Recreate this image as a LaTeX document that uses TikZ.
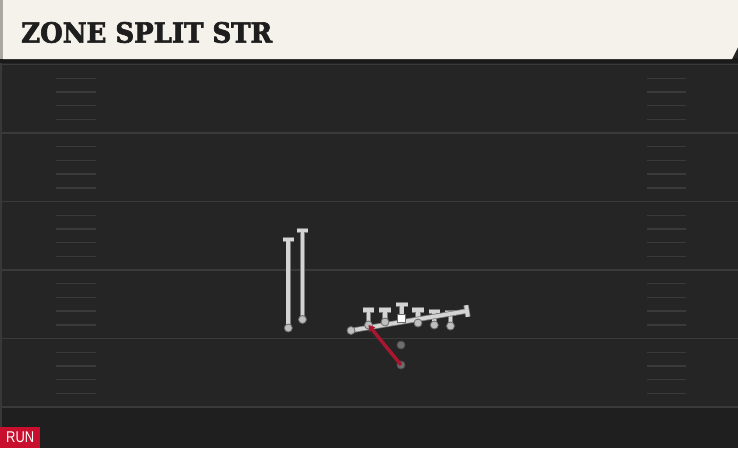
\documentclass[tikz,border=0pt]{standalone}
\usepackage{fontspec}
\usetikzlibrary{calc,arrows.meta}
\newfontfamily\titlefont{DejaVu Serif}[BoldFeatures={FakeBold=2.5}]
\newfontfamily\runfont{Liberation Sans}
\definecolor{field}{HTML}{252525}
\definecolor{fieldlow}{HTML}{1F1F1F}
\definecolor{yard}{HTML}{3A3A3A}
\definecolor{cream}{HTML}{F5F2EB}
\definecolor{headerstrip}{HTML}{A9A7A2}
\definecolor{shadow}{HTML}{1A1A1A}
\definecolor{edgeline}{HTML}{383838}
\definecolor{titleink}{HTML}{1E1E1E}
\definecolor{runred}{HTML}{C8102E}
\definecolor{pathred}{HTML}{A8172F}
\definecolor{routelight}{HTML}{D4D4D4}
\definecolor{routedark}{HTML}{7A7A7A}
\definecolor{dotfill}{HTML}{BEBEBE}
\definecolor{dotedge}{HTML}{6A6A6A}
\definecolor{rbfill}{HTML}{6E6E6E}
\definecolor{rbedge}{HTML}{4E4E4E}
\begin{document}
\begin{tikzpicture}[x=1pt,y=-1pt,
  yardline/.style={draw=yard, line width=1.6pt},
  hashmark/.style={draw=yard, line width=1.4pt},
  route/.style={draw=routelight, line width=3.7pt, preaction={draw=routedark, line width=5.3pt}},
  dot/.style={circle, fill=dotfill, draw=dotedge, line width=0.8pt, minimum size=8pt, inner sep=0pt},
  rbdot/.style={dot, fill=rbfill, draw=rbedge},
  centerbox/.style={rectangle, fill=white, draw=dotedge, line width=0.5pt, minimum size=8pt, inner sep=0pt},
  runpath/.style={draw=pathred, line width=3.4pt, -{Triangle[length=6pt,width=7.5pt]}},
]
\useasboundingbox (0,0) rectangle (738,448);
% field
\fill[field] (0,0) rectangle (738,448);
\fill[fieldlow] (0,408) rectangle (738,448);
\foreach \y in {64.5,133,201.5,270,338.5,407} \draw[yardline] (0,\y) -- (738,\y);
\foreach \y in {64.5,133,201.5,270,338.5} {
  \foreach \k in {1,...,4} {
    \draw[hashmark] (56,{\y+\k*13.7}) -- (96,{\y+\k*13.7});
    \draw[hashmark] (647,{\y+\k*13.7}) -- (686,{\y+\k*13.7});
  }
}
\fill[edgeline] (0,62) rectangle (1.6,448);
% header
\fill[shadow] (0,58) rectangle (738,62.5);
\fill[cream] (3,0) -- (738,0) -- (738,47) -- (732,59) -- (3,59) -- cycle;
\fill[headerstrip] (0,0) rectangle (3,59);
\node[anchor=base west, inner sep=0pt, text=titleink] (title) at (21,42.6)
  {\resizebox{251pt}{20.6pt}{\titlefont\bfseries ZONE SPLIT STR}};
% run label
\node[fill=runred, anchor=south west, minimum width=40pt, minimum height=20.5pt, inner sep=0pt, text=white] (runlabel) at (0,448)
  {\resizebox{28pt}{10.7pt}{\runfont RUN}};
% player positions
\coordinate (wrA) at (288.3,328);   \coordinate (wrAend) at (288.3,239.5);
\coordinate (wrB) at (302.5,319.5); \coordinate (wrBend) at (302.5,230.5);
\coordinate (te) at (351,330.5);    \coordinate (teend) at (467,311);
\coordinate (lA) at (368.5,325);    \coordinate (lAend) at (368.5,310);
\coordinate (lB) at (385,322);      \coordinate (lBend) at (385,310);
\coordinate (cc) at (401.7,318);    \coordinate (ccend) at (401.7,304.5);
\coordinate (lC) at (418,323);      \coordinate (lCend) at (418,310);
\coordinate (lD) at (434.3,325);    \coordinate (lDend) at (434.3,311.5);
\coordinate (lE) at (450.5,326);    \coordinate (lEend) at (450.5,313);
\coordinate (qb) at (401,345);
\coordinate (rb) at (401,365);
% routes
\foreach \p in {wrA,wrB,lA,lB,cc,lC,lD,lE} {
  \draw[route] (\p) -- (\p end) ($(\p end)+(-5.8,0)$) -- ($(\p end)+(5.8,0)$);
}
\draw[route] (te) -- (teend) ($(teend)!5.8pt!90:(te)$) -- ($(teend)!5.8pt!-90:(te)$);
% players
\node[dot] (pwrA) at (wrA) {};
\node[dot] (pwrB) at (wrB) {};
\node[dot] (pte) at (te) {};
\node[dot] (plA) at (lA) {};
\node[dot] (plB) at (lB) {};
\node[centerbox] (pcc) at (cc) {};
\node[dot] (plC) at (lC) {};
\node[dot] (plD) at (lD) {};
\node[dot] (plE) at (lE) {};
\node[rbdot] (pqb) at (qb) {};
\node[rbdot] (prb) at (rb) {};
\draw[runpath] (prb.center) -- (plA.center);
\end{tikzpicture}
\end{document}
